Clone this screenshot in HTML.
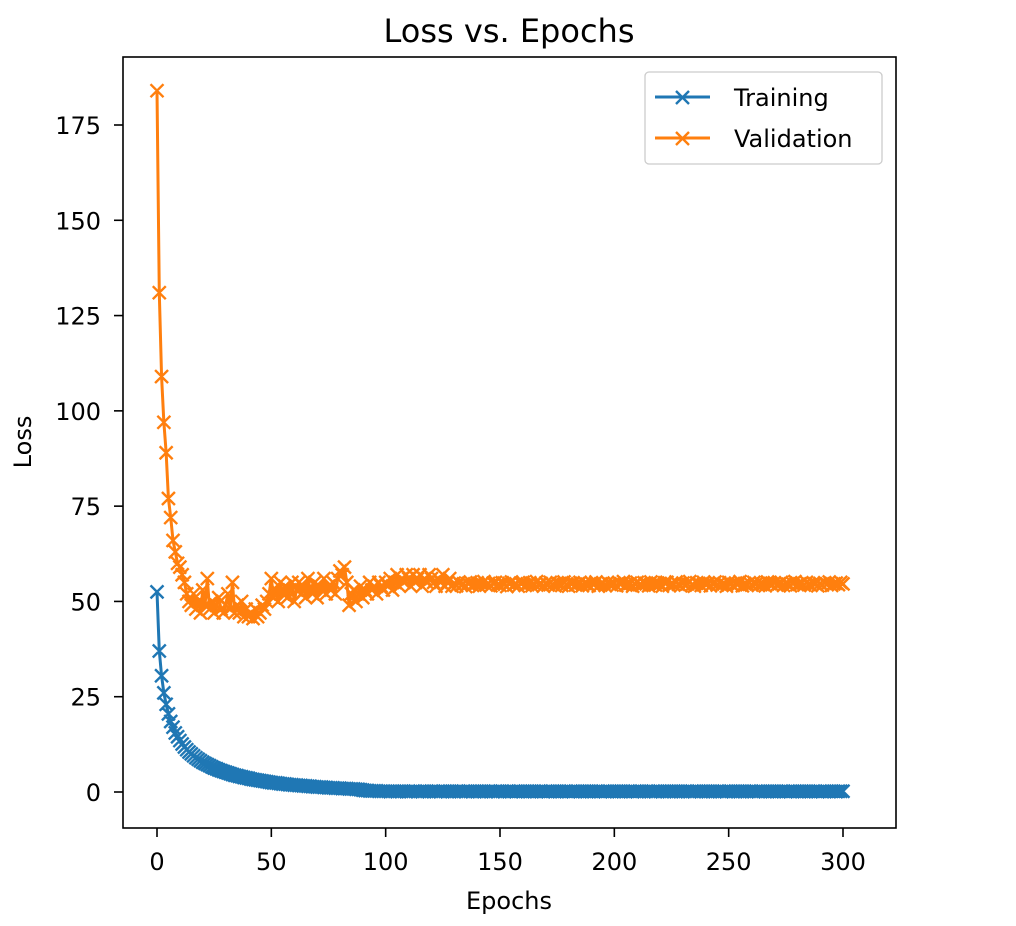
<!DOCTYPE html>
<html><head><meta charset="utf-8"><style>
body{margin:0;background:#fff;}
svg{display:block;font-family:"DejaVu Sans","Liberation Sans",sans-serif;}
</style></head><body>
<svg id="chart" width="1016" height="926" viewBox="0 0 1016 926" xmlns="http://www.w3.org/2000/svg">
<text x="509" y="42" font-size="32" text-anchor="middle" fill="#000">Loss vs. Epochs</text>
<g id="plot"></g>
<rect x="123" y="57" width="773" height="771" fill="none" stroke="#000" stroke-width="1.6"/>
<g id="ticks"></g>
<text x="509" y="909" font-size="24" text-anchor="middle" fill="#000">Epochs</text>
<text x="0" y="0" font-size="24" text-anchor="middle" fill="#000" transform="translate(31,442) rotate(-90)">Loss</text>
<g>
<rect x="645" y="72" width="237" height="92" rx="4" fill="#fff" fill-opacity="0.8" stroke="#ccc" stroke-width="1.3"/>
<g>
<line x1="655" y1="97" x2="710" y2="97" stroke="#1f77b4" stroke-width="3"/>
<path d="M676,91 L689,104 M689,91 L676,104" stroke="#1f77b4" stroke-width="2.4"/>
<text x="734" y="106" font-size="24" fill="#000">Training</text></g>
<g>
<line x1="655" y1="138" x2="710" y2="138" stroke="#ff7f0e" stroke-width="3"/>
<path d="M676,132 L689,145 M689,132 L676,145" stroke="#ff7f0e" stroke-width="2.4"/>
<text x="734" y="147" font-size="24" fill="#000">Validation</text></g>
</g>
</svg>
<script>
const xTicks=[0,50,100,150,200,250,300];
const yTicks=[0,25,50,75,100,125,150,175];
const trainLoss=[52.5,37,30.5,26,23,20.5,18.5,17,15.5,14.5,
13.5,12.6,11.8,11.1,10.5,10,9.5,9,8.6,8.2,
7.8,7.5,7.2,6.9,6.6,6.3,6.1,5.8,5.6,5.4,
5.2,5,4.8,4.6,4.4,4.3,4.1,4,3.8,3.7,
3.6,3.4,3.3,3.2,3.1,3,2.9,2.8,2.7,2.6,
2.5,2.4,2.4,2.3,2.2,2.1,2.1,2,1.9,1.9,
1.8,1.8,1.7,1.7,1.6,1.6,1.5,1.5,1.4,1.4,
1.3,1.3,1.3,1.2,1.2,1.1,1.1,1.1,1,1,
1,0.9,0.9,0.9,0.8,0.8,0.8,0.7,0.7,0.6,
0.5,0.4,0.4,0.3,0.3,0.3,0.3,0.2,0.2,0.2,
0.2,0.2,0.1,0.2,0.2,0.1,0.2,0.2,0.2,0.1,
0.2,0.1,0.2,0.2,0.1,0.2,0.1,0.2,0.2,0.1,
0.2,0.2,0.1,0.2,0.1,0.2,0.2,0.1,0.2,0.2,
0.1,0.2,0.2,0.1,0.2,0.1,0.2,0.2,0.1,0.2,
0.2,0.1,0.2,0.2,0.1,0.2,0.2,0.1,0.2,0.1,
0.2,0.2,0.1,0.2,0.2,0.1,0.2,0.1,0.2,0.2,
0.1,0.2,0.2,0.1,0.2,0.2,0.1,0.2,0.2,0.1,
0.2,0.1,0.2,0.2,0.1,0.2,0.2,0.1,0.2,0.2,
0.1,0.2,0.1,0.2,0.2,0.1,0.2,0.2,0.1,0.2,
0.2,0.1,0.2,0.2,0.1,0.2,0.1,0.2,0.2,0.1,
0.2,0.2,0.1,0.2,0.2,0.1,0.2,0.2,0.1,0.2,
0.1,0.2,0.2,0.1,0.2,0.2,0.1,0.2,0.1,0.2,
0.2,0.1,0.2,0.2,0.1,0.2,0.2,0.1,0.2,0.2,
0.1,0.2,0.2,0.1,0.2,0.1,0.2,0.2,0.1,0.2,
0.2,0.1,0.2,0.2,0.1,0.2,0.2,0.1,0.2,0.1,
0.2,0.2,0.1,0.2,0.2,0.1,0.2,0.2,0.1,0.2,
0.2,0.1,0.2,0.1,0.2,0.2,0.1,0.2,0.2,0.1,
0.2,0.2,0.1,0.2,0.2,0.1,0.2,0.1,0.2,0.2,
0.1,0.2,0.2,0.1,0.2,0.2,0.1,0.2,0.2,0.1,
0.2,0.1,0.2,0.2,0.1,0.2,0.2,0.1,0.2,0.2,
0.2];
const valLoss=[184,131,109,97,89,77,72,66,63,60,
59,57,55,52,50,49,52,48,50,47,
53,49,56,48,50,47,49,51,48,47,
49,52,48,55,47,49,47,50,46,48,
46,47,45.5,48,46,47,49,48,50,52,
56,51,53,50,55,52,54,51,53,55,
50,53,55,52,54,51,56,53,52,55,
51,54,53,56,52,54,53,55,52,56,
58,57,59,55,49,52,53,50,52,54,
51,53,52,55,53,54,52,55,54,53,
55,54,56,53,55,57,54,56,55,57,
56,54,57,55,56,57,54,56,55,57,
56,55,54,56,55,57,54,55,56,54,
54.8,54.1,55,54.3,54.6,53.9,54.7,55.1,54.2,54.5,
54.9,54,54.6,55.2,54.3,54.7,54.1,54.8,55,54.4,
54.2,54.9,54.5,53.9,54.7,55.1,54.3,54.6,54,54.8,
55,54.2,54.5,54.9,54.1,54.6,55.2,54.4,54.7,54,
54.8,54.3,55,54.5,54.1,54.9,54.6,54.2,55.1,54.4,
54,54.7,54.9,54.3,54.6,55,54.1,54.8,54.5,54.2,
54.9,54.4,55.1,54,54.6,54.8,54.2,55,54.5,54.3,
54.7,54.1,54.9,54.6,55.2,54.3,54.5,54.8,54,54.6,
55,54.4,54.2,54.9,54.7,54.1,55.1,54.5,54.3,54.8,
54.6,54,54.9,55,54.2,54.7,54.4,55.1,54.5,54.1,
54.8,54.3,54.6,55.2,54.4,54,54.9,54.7,54.2,55,
54.5,54.8,54.1,54.6,55.1,54.3,54.9,54.4,54.7,54,
55,54.6,54.2,54.8,54.5,55.2,54.1,54.7,54.4,54.9,
54.3,55,54.6,54.2,54.8,54.5,54.1,55.1,54.7,54.4,
54.9,54.3,54.6,55,54.2,54.8,54.5,54.1,54.7,55.2,
54.4,54.6,54.9,54.3,55,54.5,54.2,54.8,54.6,54.1,
54.7,54.3,54.9,54.5,55.1,54.2,54.6,54.8,54.4,55,
54.6];
const NS="http://www.w3.org/2000/svg";
const X0=123,X1=896,Y0=57,Y1=828;
function xs(v){return 157+(v-0)*(843-157)/300;}
function ys(v){return 792-v*(792-125)/175;}
function mk(t,a,p){const e=document.createElementNS(NS,t);for(const k in a)e.setAttribute(k,a[k]);p.appendChild(e);return e;}
const plot=document.getElementById('plot');
const ticks=document.getElementById('ticks');
xTicks.forEach(v=>{
 const t=mk('line',{x1:xs(v),x2:xs(v),y1:Y1,y2:Y1+9,stroke:'#000','stroke-width':1.6},ticks);
 
 
 const l=mk('text',{x:xs(v),y:870,'font-size':24,'text-anchor':'middle',fill:'#000'},ticks);
 
 
 l.textContent=v;
});
yTicks.forEach(v=>{
 const t=mk('line',{x1:X0-9,x2:X0,y1:ys(v),y2:ys(v),stroke:'#000','stroke-width':1.6},ticks);
 
 
 const l=mk('text',{x:101,y:ys(v)+9,'font-size':24,'text-anchor':'end',fill:'#000'},ticks);
 
 
 l.textContent=v;
});
function series(data,color,name){
 const g=mk('g',{},plot);
 
 
 const pts=data.map((v,i)=>xs(i).toFixed(2)+','+ys(v).toFixed(2)).join(' ');
 const pl=mk('polyline',{points:pts,fill:'none',stroke:color,'stroke-width':3,'stroke-linejoin':'round'},g);
 
 
 let d='';
 data.forEach((v,i)=>{const x=xs(i),y=ys(v),r=6.5;d+=`M${x-r},${y-r}L${x+r},${y+r}M${x+r},${y-r}L${x-r},${y+r}`;});
 const m=mk('path',{d:d,stroke:color,'stroke-width':2.4,fill:'none'},g);
 
 
}
series(trainLoss,'#1f77b4','training-series');
series(valLoss,'#ff7f0e','validation-series');
</script>
</body></html>
